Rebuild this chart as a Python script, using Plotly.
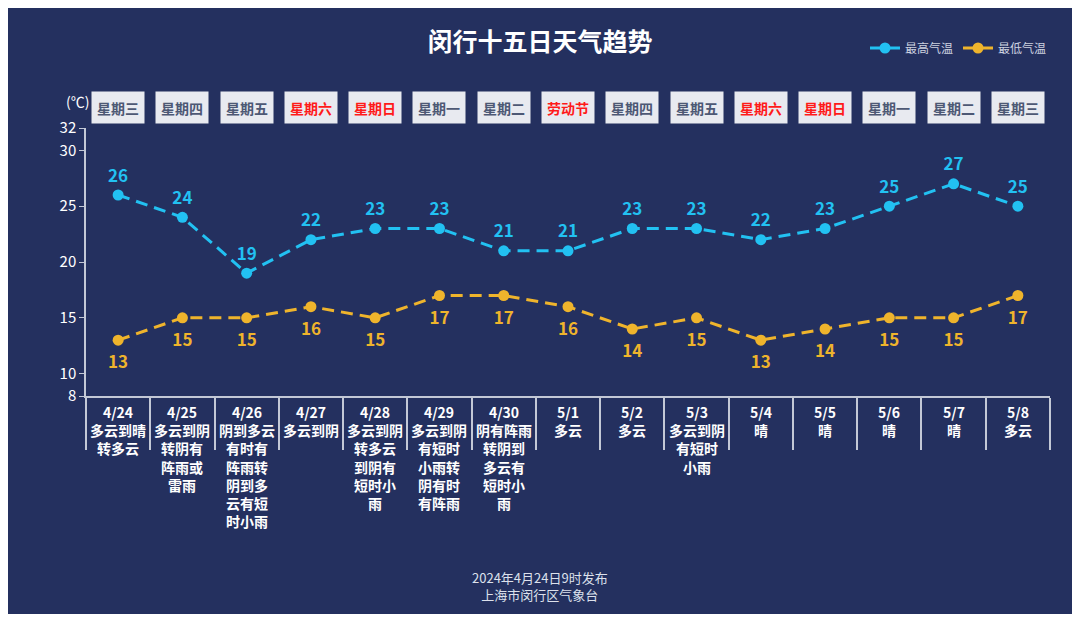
import plotly.graph_objects as go

dates = ["4/24", "4/25", "4/26", "4/27", "4/28", "4/29", "4/30", "5/1",
         "5/2", "5/3", "5/4", "5/5", "5/6", "5/7", "5/8"]
weekdays = ["星期三", "星期四", "星期五", "星期六", "星期日", "星期一", "星期二", "劳动节",
            "星期四", "星期五", "星期六", "星期日", "星期一", "星期二", "星期三"]
red_days = [False, False, False, True, True, False, False, True,
            False, False, True, True, False, False, False]
weather = ["多云到晴转多云", "多云到阴转阴有阵雨或雷雨", "阴到多云有时有阵雨转阴到多云有短时小雨",
           "多云到阴", "多云到阴转多云到阴有短时小雨", "多云到阴有短时小雨转阴有时有阵雨",
           "阴有阵雨转阴到多云有短时小雨", "多云", "多云", "多云到阴有短时小雨",
           "晴", "晴", "晴", "晴", "多云"]
high = [26, 24, 19, 22, 23, 23, 21, 21, 23, 23, 22, 23, 25, 27, 25]
low = [13, 15, 15, 16, 15, 17, 17, 16, 14, 15, 13, 14, 15, 15, 17]
y_ticks = [8, 10, 15, 20, 25, 30, 32]

BG = "#24305f"
HI_C = "#22c1f2"
LO_C = "#efb42c"
AX_C = "#c3c8d6"
FONT = "Noto Sans CJK SC"

# plot area geometry (figure pixels; page has an 8px body offset)
L, T, PW, PH = 78, 120, 964, 268
W, H = 1080, 622


def wrap(s):
    lines = [s[:4]]
    rest = s[4:]
    while rest:
        lines.append(rest[:3])
        rest = rest[3:]
    return "<br>".join(lines)


def px_x(p):
    return (p - L) / PW


def px_y(p):
    return (T + PH - p) / PH


fig = go.Figure()

fig.add_trace(go.Scatter(
    x=dates, y=high, mode="lines+markers", name="最高气温",
    line=dict(color=HI_C, width=3, dash="12px,7px"),
    marker=dict(color=HI_C, size=11), cliponaxis=False))
fig.add_trace(go.Scatter(
    x=dates, y=low, mode="lines+markers", name="最低气温",
    line=dict(color=LO_C, width=3, dash="12px,7px"),
    marker=dict(color=LO_C, size=11), cliponaxis=False))
fig.add_trace(go.Scatter(
    x=dates, y=high, mode="markers+text", text=[str(v) for v in high],
    textposition="top center", showlegend=False, hoverinfo="skip",
    marker=dict(size=13, opacity=0),
    textfont=dict(color=HI_C, size=17, family=FONT, weight="bold"), cliponaxis=False))
fig.add_trace(go.Scatter(
    x=dates, y=low, mode="markers+text", text=[str(v) for v in low],
    textposition="bottom center", showlegend=False, hoverinfo="skip",
    marker=dict(size=23, opacity=0),
    textfont=dict(color=LO_C, size=17, family=FONT, weight="bold"), cliponaxis=False))

annotations = []
for d, wd, red, w in zip(dates, weekdays, red_days, weather):
    annotations.append(dict(
        x=d, xref="x", y=1, yref="paper", yshift=21, yanchor="middle",
        text="<b>%s</b>" % wd, showarrow=False, width=50, height=29,
        bgcolor="#e8eaf0",
        font=dict(color="#ff1a1a" if red else "#4d5874", size=14, family=FONT)))
    annotations.append(dict(
        x=d, xref="x", y=0, yref="paper", yshift=-4, yanchor="top",
        text="<b>%s<br>%s</b>" % (d, wrap(w)), showarrow=False,
        font=dict(color="white", size=14, family=FONT)))

annotations.append(dict(
    x=0, xref="paper", xanchor="right", xshift=5, y=1, yref="paper", yshift=27,
    yanchor="middle", text="(℃)", showarrow=False,
    font=dict(color="white", size=14, family=FONT)))
annotations.append(dict(
    x=px_x(532), xref="paper", xanchor="center",
    y=px_y(578), yref="paper", yanchor="middle",
    text="2024年4月24日9时发布<br>上海市闵行区气象台", showarrow=False,
    font=dict(color="#dde1ec", size=13, family=FONT)))

fig.update_layout(
    width=W, height=H,
    margin=dict(l=L, r=W - L - PW, t=T, b=H - T - PH),
    paper_bgcolor="white", plot_bgcolor="rgba(0,0,0,0)",
    font=dict(family=FONT, color="white"),
    title=dict(text="<b>闵行十五日天气趋势</b>", x=532 / W, xref="container", xanchor="center",
               y=1 - 34 / H, yanchor="middle",
               font=dict(size=25, color="white", family=FONT)),
    legend=dict(orientation="h", x=px_x(1044), xanchor="right", y=px_y(40), yanchor="middle",
                font=dict(size=12, color="#cdd2e0", family=FONT),
                bgcolor="rgba(0,0,0,0)", itemwidth=30),
    shapes=[dict(type="rect", xref="paper", yref="paper", layer="below",
                 x0=px_x(-2), x1=px_x(1064),
                 y0=px_y(606), y1=px_y(-2),
                 fillcolor=BG, line=dict(width=0))],
    annotations=annotations,
    showlegend=True,
)

fig.update_xaxes(
    type="category", range=[-0.5, 14.5], showgrid=False, zeroline=False,
    showline=True, linecolor=AX_C, linewidth=1.5,
    ticks="outside", tickson="boundaries", ticklen=52, tickcolor=AX_C, tickwidth=1.5,
    showticklabels=False)
fig.update_yaxes(
    range=[8, 32], tickvals=y_ticks, showgrid=False, zeroline=False,
    showline=True, linecolor=AX_C, linewidth=1.5,
    ticks="outside", ticklen=5, tickcolor=AX_C,
    tickfont=dict(size=15, color="white", family=FONT))

fig.write_html("out.html")
